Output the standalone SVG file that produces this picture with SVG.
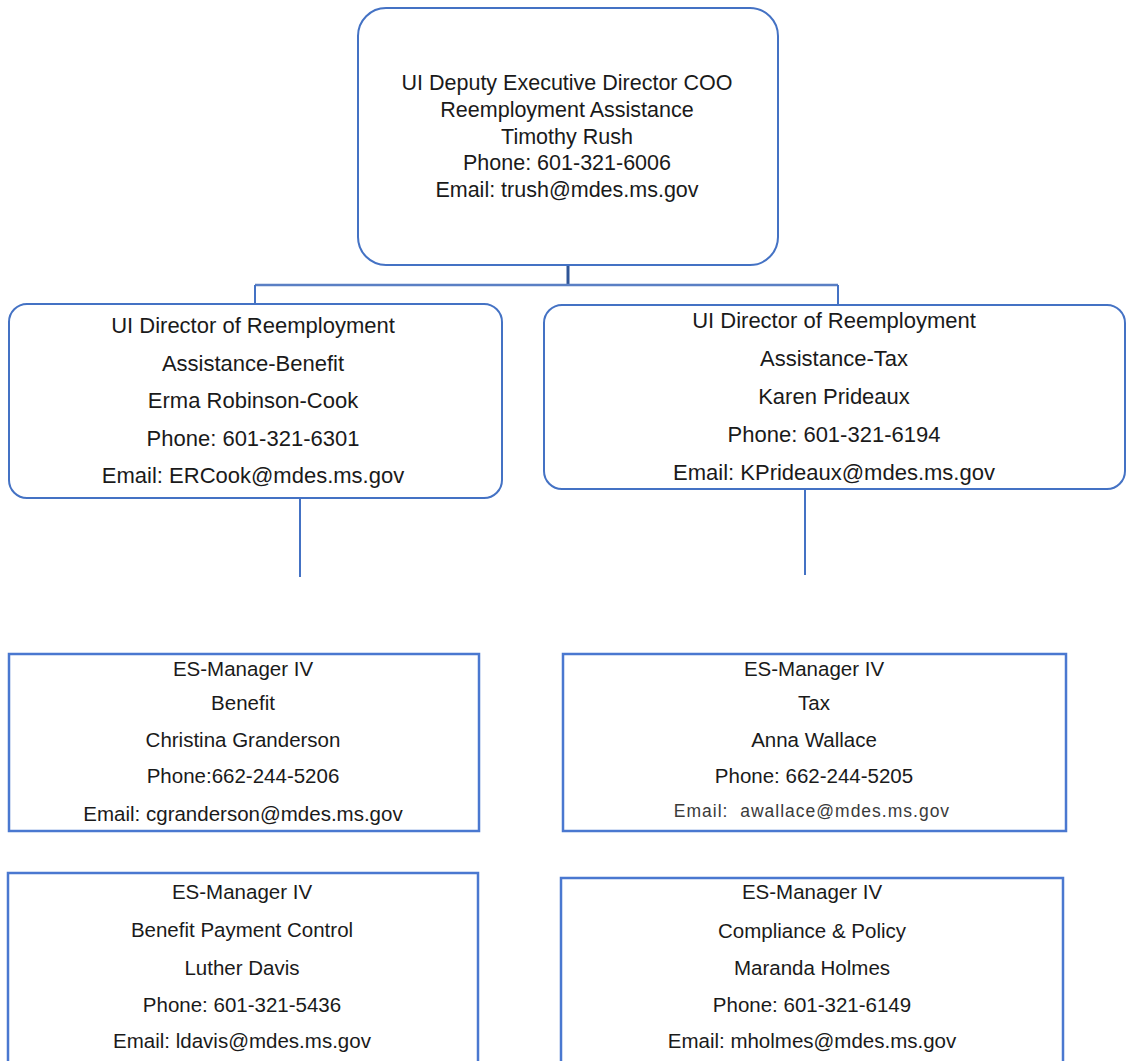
<svg xmlns="http://www.w3.org/2000/svg" width="1126" height="1061" viewBox="0 0 1126 1061">
<style>
.rb{fill:#fff;stroke:#4472C4;stroke-width:2}
.sq{fill:#fff;stroke:#4A78D0;stroke-width:2.5}
.t{font-family:"Liberation Sans",Arial,sans-serif;fill:#1a1a1a;text-anchor:middle}
.t1{font-size:21.5px}
.t2{font-size:22px}
.t3{font-size:20.5px}
.t4{font-size:17.5px;fill:#3a3a3a;letter-spacing:1px}
.c{fill:none;stroke:#4472C4;stroke-width:2}
</style>
<rect width="1126" height="1061" fill="#fff"/>
<g id="connectors">
<line class="c" x1="568" y1="265" x2="568" y2="285" style="stroke:#2F5597;stroke-width:3"/>
<line class="c" x1="255" y1="285" x2="838" y2="285" style="stroke:#5A7FC4;stroke-width:2.5"/>
<line class="c" x1="255" y1="285" x2="255" y2="304"/>
<line class="c" x1="838" y1="285" x2="838" y2="305"/>
<line class="c" x1="300" y1="498" x2="300" y2="577"/>
<line class="c" x1="805" y1="489" x2="805" y2="575"/>
</g>
<g id="node-coo">
<rect class="rb" x="358" y="8" width="420" height="257" rx="28"/>
<text class="t t1" x="567" y="90">UI Deputy Executive Director COO</text>
<text class="t t1" x="567" y="117">Reemployment Assistance</text>
<text class="t t1" x="567" y="144">Timothy Rush</text>
<text class="t t1" x="567" y="170">Phone: 601-321-6006</text>
<text class="t t1" x="567" y="197">Email: trush@mdes.ms.gov</text>
</g>
<g id="node-benefit-director">
<rect class="rb" x="9" y="304" width="493" height="194" rx="18"/>
<text class="t t2" x="253" y="333">UI Director of Reemployment</text>
<text class="t t2" x="253" y="371">Assistance-Benefit</text>
<text class="t t2" x="253" y="408">Erma Robinson-Cook</text>
<text class="t t2" x="253" y="446">Phone: 601-321-6301</text>
<text class="t t2" x="253" y="483">Email: ERCook@mdes.ms.gov</text>
</g>
<g id="node-tax-director">
<rect class="rb" x="544" y="305" width="581" height="184" rx="18"/>
<text class="t t2" x="834" y="328">UI Director of Reemployment</text>
<text class="t t2" x="834" y="366">Assistance-Tax</text>
<text class="t t2" x="834" y="404">Karen Prideaux</text>
<text class="t t2" x="834" y="442">Phone: 601-321-6194</text>
<text class="t t2" x="834" y="480">Email: KPrideaux@mdes.ms.gov</text>
</g>
<g id="node-benefit-manager">
<rect class="sq" x="9" y="654" width="470" height="177"/>
<text class="t t3" x="243" y="676">ES-Manager IV</text>
<text class="t t3" x="243" y="710">Benefit</text>
<text class="t t3" x="243" y="747">Christina Granderson</text>
<text class="t t3" x="243" y="783">Phone:662-244-5206</text>
<text class="t t3" x="243" y="821">Email: cgranderson@mdes.ms.gov</text>
</g>
<g id="node-tax-manager">
<rect class="sq" x="563" y="654" width="503" height="177"/>
<text class="t t3" x="814" y="676">ES-Manager IV</text>
<text class="t t3" x="814" y="710">Tax</text>
<text class="t t3" x="814" y="747">Anna Wallace</text>
<text class="t t3" x="814" y="783">Phone: 662-244-5205</text>
<text class="t t4" x="812" y="817" xml:space="preserve">Email:  awallace@mdes.ms.gov</text>
</g>
<g id="node-bpc-manager">
<rect class="sq" x="8" y="873" width="470" height="200"/>
<text class="t t3" x="242" y="899">ES-Manager IV</text>
<text class="t t3" x="242" y="937">Benefit Payment Control</text>
<text class="t t3" x="242" y="975">Luther Davis</text>
<text class="t t3" x="242" y="1012">Phone: 601-321-5436</text>
<text class="t t3" x="242" y="1048">Email: ldavis@mdes.ms.gov</text>
</g>
<g id="node-compliance-manager">
<rect class="sq" x="561" y="878" width="502" height="200"/>
<text class="t t3" x="812" y="899">ES-Manager IV</text>
<text class="t t3" x="812" y="938">Compliance &amp; Policy</text>
<text class="t t3" x="812" y="975">Maranda Holmes</text>
<text class="t t3" x="812" y="1012">Phone: 601-321-6149</text>
<text class="t t3" x="812" y="1048">Email: mholmes@mdes.ms.gov</text>
</g>
</svg>
